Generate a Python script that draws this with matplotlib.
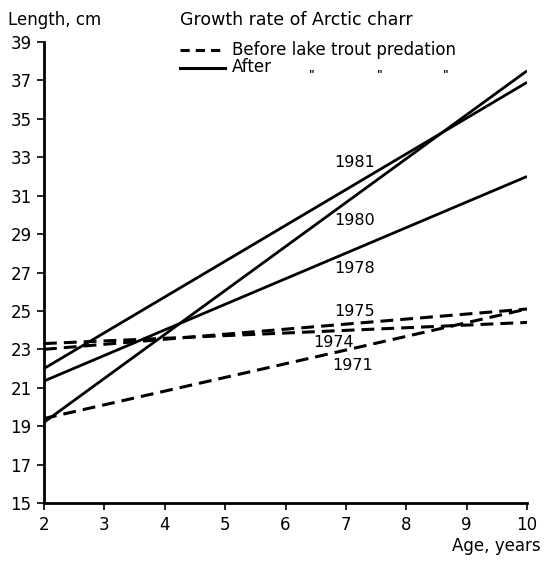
import matplotlib
matplotlib.use('Agg')
import matplotlib.pyplot as plt
from matplotlib.lines import Line2D

plt.rcParams['font.family'] = ['DejaVu Sans']

# Data (start and end of each fitted growth line).
ages = [2, 10]
len_1981 = [22.0, 36.9]
len_1980 = [19.2, 37.5]
len_1978 = [21.35, 32.0]
len_1975 = [23.0, 25.1]
len_1974 = [23.3, 24.4]
len_1971 = [19.4, 25.1]

after_series = [('1981', len_1981), ('1980', len_1980), ('1978', len_1978)]
before_series = [('1975', len_1975), ('1974', len_1974), ('1971', len_1971)]

# Label positions (age, length) for the year annotations.
label_pos = {
    '1981': (7.15, 32.75),
    '1980': (7.15, 29.7),
    '1978': (7.15, 27.2),
    '1975': (7.15, 24.95),
    '1974': (6.8, 23.35),
    '1971': (7.12, 22.15),
}

W, H = 550, 561
fig = plt.figure(figsize=(W / 100, H / 100), dpi=100)
ax = fig.add_axes([44 / W, 1 - 503 / H, (527 - 44) / W, (503 - 42) / H])

dash = (0, (4.2, 2.3))
for name, ys in after_series:
    ax.plot(ages, ys, color='black', lw=2.0, solid_capstyle='butt')
for name, ys in before_series:
    ax.plot(ages, ys, color='black', lw=2.2, ls=dash)

for name, (x, y) in label_pos.items():
    ax.text(x, y, name, ha='center', va='center', fontsize=11.5)

ax.set_xlim(2, 10)
ax.set_ylim(15, 39)
ax.set_xticks(range(2, 11))
ax.set_yticks(range(15, 40, 2))
ax.spines['top'].set_visible(False)
ax.spines['right'].set_visible(False)
ax.spines['left'].set_linewidth(2)
ax.spines['bottom'].set_linewidth(2)
ax.tick_params(direction='out', length=5, width=1.2, labelsize=12, pad=4)


def fx(px):
    return px / W


def fy(py):
    return 1 - py / H


# Axis titles
fig.text(fx(8), fy(20), 'Length, cm', fontsize=12, va='center', ha='left')
fig.text(fx(541), fy(546), 'Age, years', fontsize=12, va='center', ha='right')

# Legend, drawn by hand like the original
fig.text(fx(180), fy(20), 'Growth rate of Arctic charr', fontsize=12.5, va='center', ha='left')
fig.add_artist(Line2D([fx(180), fx(225)], [fy(50), fy(50)], color='black', lw=2.2, ls=(0, (3, 2))))
fig.add_artist(Line2D([fx(180), fx(225)], [fy(68), fy(68)], color='black', lw=2.2))
fig.text(fx(232), fy(50), 'Before lake trout predation', fontsize=12, va='center', ha='left')
fig.text(fx(232), fy(67), 'After', fontsize=12, va='center', ha='left')
for px in [312, 380, 446]:
    fig.text(fx(px), fy(74), '"', fontsize=8, fontweight='bold', va='center', ha='center')

plt.savefig('out.png', dpi=100)
